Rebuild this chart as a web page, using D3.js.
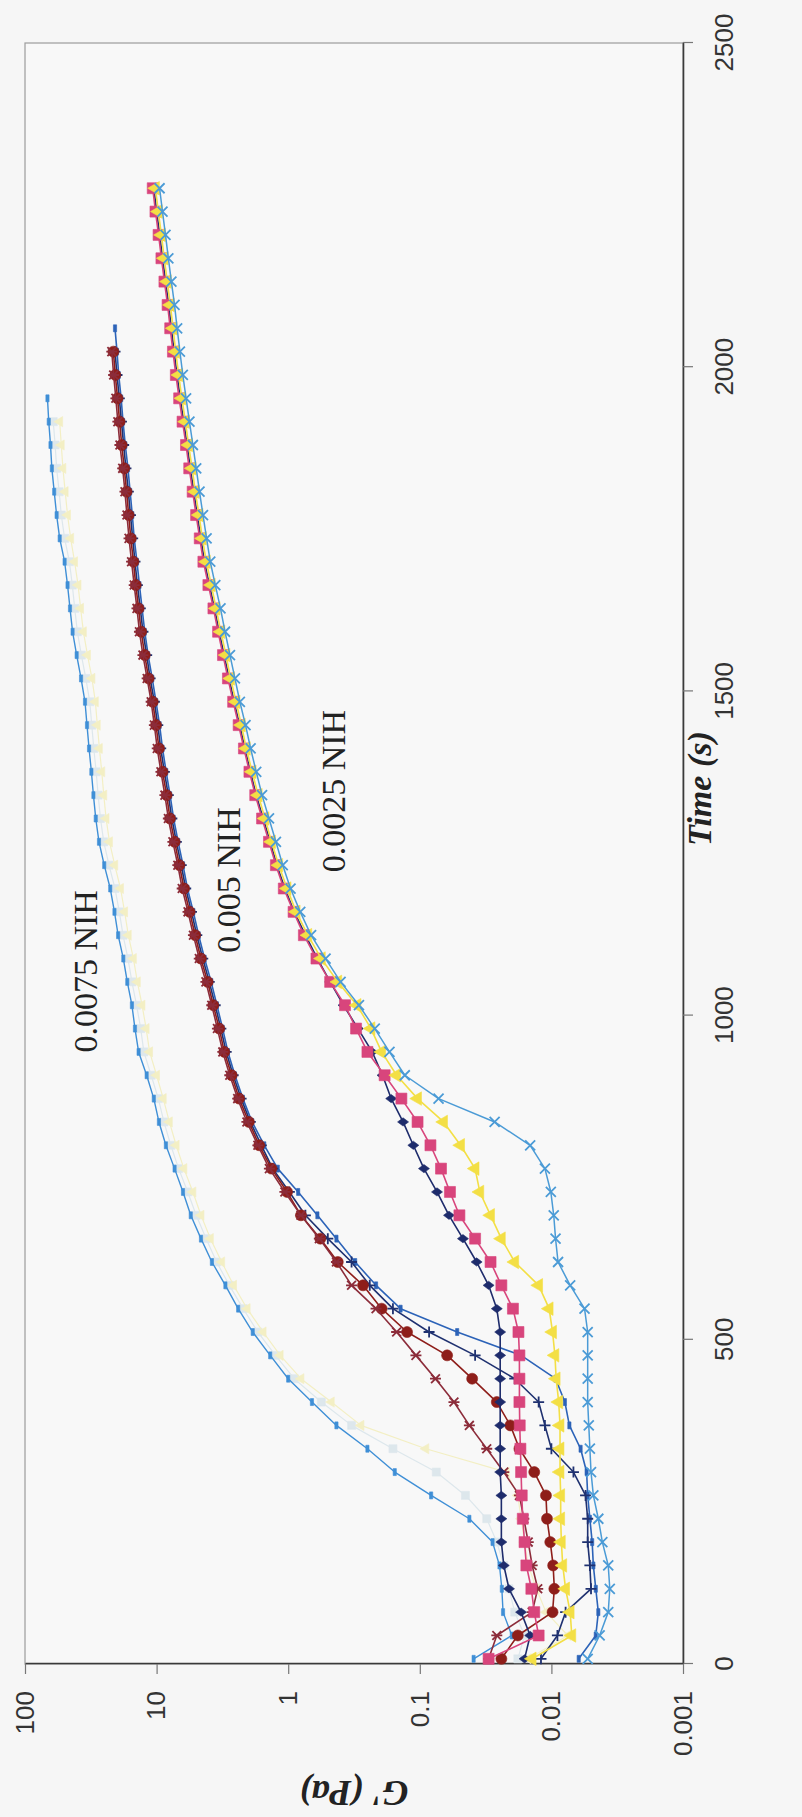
<!DOCTYPE html>
<html>
<head>
<meta charset="utf-8">
<script src="https://cdn.jsdelivr.net/npm/d3@7"></script>
<style>
  html, body { margin: 0; padding: 0; background: #f6f6f6; }
  svg { display: block; }
</style>
</head>
<body>
<svg id="chart" width="802" height="1817"></svg>
<script>
// Sampling times (s)
const times = [8, 44, 80, 116, 152, 188, 224, 260, 296, 332, 368, 404, 440, 476, 512, 548,
  584, 620, 656, 692, 728, 764, 800, 836, 872, 908, 944, 980, 1016, 1052, 1088, 1124,
  1160, 1196, 1232, 1268, 1304, 1340, 1376, 1412, 1448, 1484, 1520, 1556, 1592, 1628,
  1664, 1700, 1736, 1772, 1808, 1844, 1880, 1916, 1952, 1988, 2024, 2060, 2096, 2132,
  2168, 2204, 2240, 2276];

// G' (Pa) — 0.0025 NIH
const navyDiamond0025 = [0.016, 0.0145, 0.017, 0.021, 0.023, 0.024, 0.024, 0.024, 0.0245, 0.0245,
  0.0245, 0.0245, 0.0245, 0.0245, 0.0245, 0.026, 0.030, 0.037, 0.047, 0.060, 0.074, 0.093, 0.112,
  0.134, 0.165, 0.192, 0.23, 0.295, 0.38, 0.48, 0.60, 0.74, 0.90, 1.06, 1.22, 1.37, 1.55, 1.75,
  1.94, 2.13, 2.34, 2.58, 2.81, 3.07, 3.35, 3.63, 3.97, 4.33, 4.61, 4.91, 5.22, 5.54, 5.87, 6.23,
  6.61, 7.00, 7.36, 7.73, 8.10, 8.55, 9.01, 9.48, 9.99, 10.5];
const pinkSquare0025 = [0.030, 0.0125, 0.0135, 0.0142, 0.0155, 0.016, 0.0165, 0.0168, 0.017, 0.0172,
  0.0174, 0.0175, 0.0175, 0.0175, 0.0178, 0.0196, 0.024, 0.029, 0.038, 0.050, 0.059, 0.069, 0.083,
  0.104, 0.138, 0.185, 0.25, 0.305, 0.37, 0.48, 0.61, 0.76, 0.91, 1.08, 1.24, 1.40, 1.58, 1.78,
  1.97, 2.17, 2.38, 2.62, 2.87, 3.13, 3.41, 3.70, 4.04, 4.41, 4.70, 5.01, 5.32, 5.65, 5.98, 6.35,
  6.74, 7.14, 7.51, 7.88, 8.25, 8.72, 9.19, 9.66, 10.2, 10.7];
const yellowTriangle0025 = [0.014, 0.0070, 0.0072, 0.0078, 0.0082, 0.0084, 0.0085, 0.0085, 0.0086,
  0.0086, 0.0086, 0.0088, 0.0092, 0.0094, 0.0098, 0.0104, 0.0125, 0.019, 0.024, 0.029, 0.035, 0.038,
  0.049, 0.066, 0.104, 0.15, 0.195, 0.235, 0.30, 0.42, 0.56, 0.71, 0.87, 1.02, 1.18, 1.34, 1.50,
  1.69, 1.88, 2.08, 2.27, 2.49, 2.74, 2.97, 3.25, 3.53, 3.84, 4.19, 4.49, 4.76, 5.08, 5.37, 5.71,
  6.04, 6.43, 6.79, 7.16, 7.49, 7.87, 8.29, 8.76, 9.19, 9.71, 10.2];
const blueCross0025 = [0.0053, 0.0043, 0.0037, 0.0036, 0.0037, 0.0041, 0.0044, 0.0048, 0.0050, 0.0051,
  0.0052, 0.0053, 0.0053, 0.0053, 0.0053, 0.0056, 0.0072, 0.0089, 0.0093, 0.0096, 0.0101, 0.0112,
  0.0145, 0.027, 0.072, 0.13, 0.17, 0.22, 0.29, 0.40, 0.52, 0.67, 0.81, 0.96, 1.10, 1.24, 1.40,
  1.58, 1.75, 1.93, 2.11, 2.33, 2.54, 2.77, 3.02, 3.27, 3.58, 3.91, 4.17, 4.44, 4.72, 5.00, 5.30,
  5.63, 5.97, 6.32, 6.65, 6.98, 7.31, 7.72, 8.14, 8.56, 9.02, 9.49];

// G' (Pa) — 0.005 NIH
const blueDash005 = [0.0062, 0.0046, 0.0044, 0.0046, 0.0048, 0.0049, 0.0051, 0.0053, 0.0054, 0.0060,
  0.0073, 0.0079, 0.0093, 0.017, 0.052, 0.14, 0.215, 0.31, 0.43, 0.60, 0.84, 1.20, 1.52, 1.88,
  2.21, 2.54, 2.87, 3.15, 3.48, 3.85, 4.32, 4.79, 5.26, 5.83, 6.30, 6.86, 7.43, 7.90, 8.46, 9.02,
  9.49, 10.1, 10.8, 11.6, 12.3, 12.9, 13.5, 14.1, 14.8, 15.3, 15.9, 16.5, 17.3, 18.0, 18.6, 19.4,
  20.0, 20.7];
const navyPlus005 = [0.012, 0.009, 0.0078, 0.0050, 0.0051, 0.0053, 0.0053, 0.0055, 0.0068, 0.0100,
  0.0112, 0.0125, 0.019, 0.038, 0.085, 0.16, 0.24, 0.33, 0.50, 0.74, 0.98, 1.31, 1.60, 1.94, 2.28,
  2.62, 2.96, 3.25, 3.59, 3.98, 4.46, 4.95, 5.43, 6.01, 6.50, 7.08, 7.66, 8.15, 8.73, 9.31, 9.80,
  10.4, 11.2, 11.9, 12.7, 13.3, 14.0, 14.6, 15.2, 15.8, 16.4, 17.1, 17.8, 18.5, 19.2, 20.0, 20.7];
const redCircle005 = [0.024, 0.018, 0.0098, 0.0095, 0.0097, 0.0102, 0.0108, 0.011, 0.0135, 0.0175,
  0.0205, 0.026, 0.040, 0.062, 0.125, 0.195, 0.27, 0.42, 0.57, 0.80, 1.02, 1.34, 1.66, 1.99, 2.36,
  2.69, 3.06, 3.34, 3.71, 4.09, 4.61, 5.09, 5.61, 6.19, 6.71, 7.29, 7.91, 8.39, 9.01, 9.59, 10.1,
  10.7, 11.5, 12.3, 13.1, 13.7, 14.4, 15.0, 15.7, 16.3, 16.9, 17.6, 18.4, 19.1, 19.8, 20.6, 21.3];
const redStar005 = [0.030, 0.026, 0.014, 0.0127, 0.014, 0.015, 0.0162, 0.0175, 0.023, 0.031, 0.042,
  0.055, 0.076, 0.107, 0.15, 0.215, 0.33, 0.43, 0.58, 0.80, 1.06, 1.39, 1.70, 2.06, 2.42, 2.78,
  3.14, 3.45, 3.81, 4.22, 4.74, 5.25, 5.77, 6.39, 6.90, 7.52, 8.14, 8.65, 9.27, 9.89, 10.4, 11.0,
  11.8, 12.7, 13.5, 14.1, 14.8, 15.5, 16.2, 16.8, 17.4, 18.1, 19.0, 19.7, 20.4, 21.2, 21.9];

// G' (Pa) — 0.0075 NIH
const grayPale0075 = [0.018, 0.016, 0.019, 0.021, 0.023, 0.026, 0.031, 0.045, 0.075, 0.16, 0.33,
  0.56, 0.9, 1.25, 1.7, 2.2, 2.8, 3.5, 4.2, 5.0, 5.8, 6.8, 7.8, 8.8, 9.7, 11.0, 12.5, 13.2, 14.2,
  15.4, 16.5, 18.0, 19.2, 20.7, 23.0, 25.2, 26.7, 27.8, 28.8, 30.0, 31.1, 32.2, 34.5, 37.3, 40.0,
  41.9, 43.7, 46.0, 50.0, 53.0, 55.0, 57.5, 59.0, 61.0];
const yellowPale0075 = [0.015, 0.0075, 0.011, 0.013, 0.015, 0.016, 0.017, 0.018, 0.022, 0.09, 0.28,
  0.47, 0.8, 1.15, 1.55, 2.05, 2.6, 3.2, 3.9, 4.6, 5.3, 6.2, 7.1, 8.0, 8.9, 10.0, 11.3, 12.0, 12.9,
  14.0, 15.0, 16.4, 17.5, 18.8, 20.8, 22.8, 24.2, 25.2, 26.1, 27.2, 28.2, 29.2, 31.0, 33.5, 36.0,
  37.8, 39.5, 42.0, 45.0, 47.5, 49.5, 51.5, 53.0, 54.5];
const blueDash0075 = [0.039, 0.020, 0.0233, 0.0238, 0.0248, 0.028, 0.042, 0.082, 0.155, 0.25, 0.43,
  0.66, 1.0, 1.37, 1.86, 2.4, 3.0, 3.8, 4.6, 5.5, 6.3, 7.3, 8.5, 9.6, 10.5, 11.9, 13.7, 14.6, 15.4,
  16.7, 17.9, 19.6, 20.9, 22.5, 25.0, 27.4, 29.0, 30.2, 31.3, 32.6, 33.8, 35.0, 37.5, 40.5, 43.5,
  45.5, 47.5, 50, 54.5, 57.5, 60, 62.5, 64, 66, 67.5];

// Axis ticks
const timeTicks = [0, 500, 1000, 1500, 2000, 2500];
const modulusTicks = [0.001, 0.01, 0.1, 1, 10, 100];
const modulusTickLabels = ["0.001", "0.01", "0.1", "1", "10", "100"];

// Group annotations: text, time (s), G' (Pa) of the text start
const groupLabels = ["0.0075 NIH", "0.005 NIH", "0.0025 NIH"];
const groupLabelTime = [943, 1097, 1221];
const groupLabelModulus = [28.4, 2.32, 0.37];

// Series drawing order and styles
const series = [
  { values: grayPale0075, color: "#dde7ec", marker: "square", size: 8, lw: 1.2 },
  { values: yellowPale0075, color: "#f3efc4", marker: "triangle", size: 9, lw: 1.2 },
  { values: blueDash0075, color: "#3f8fd6", marker: "dash", size: 7, lw: 1.4 },
  { values: blueDash005, color: "#2c63b8", marker: "dash", size: 7, lw: 1.6 },
  { values: navyPlus005, color: "#1f3170", marker: "plus", size: 11, lw: 1.6 },
  { values: redCircle005, color: "#8e1e1a", marker: "circle", size: 11, lw: 1.6 },
  { values: redStar005, color: "#8c2c3a", marker: "star", size: 11, lw: 1.6 },
  { values: navyDiamond0025, color: "#1e2c6c", marker: "diamond", size: 11, lw: 1.6 },
  { values: pinkSquare0025, color: "#d8457c", marker: "square", size: 11, lw: 1.6 },
  { values: yellowTriangle0025, color: "#f3df45", marker: "triangle", size: 12, lw: 1.6 },
  { values: blueCross0025, color: "#4b9bd6", marker: "cross", size: 10, lw: 1.5 }
];

// The chart is laid out landscape and then turned a quarter turn counter-clockwise.
const W = 1817, H = 802;
const svg = d3.select("#chart");
svg.append("rect").attr("width", 802).attr("height", 1817).attr("fill", "#f6f6f6");
const g = svg.append("g").attr("transform", `translate(0,${W}) rotate(-90)`);

const x = d3.scaleLinear().domain([0, 2500]).range([153, 1774]);
const y = d3.scaleLog().domain([0.001, 100]).range([683, 25]);

// plot area frame
g.append("rect")
  .attr("x", x(0)).attr("y", y(100))
  .attr("width", x(2500) - x(0)).attr("height", y(0.001) - y(100))
  .attr("fill", "#f8f8f8").attr("stroke", "#9c9c9c").attr("stroke-width", 1.2);

// Time axis
const xAxis = g.append("g")
  .attr("transform", `translate(0,${y(0.001)})`)
  .call(d3.axisBottom(x).tickValues(timeTicks).tickFormat(d3.format("d"))
    .tickSize(10).tickSizeOuter(0).tickPadding(22));
xAxis.select(".domain").attr("stroke", "#3a3a3a").attr("stroke-width", 1.6);
xAxis.selectAll(".tick line").attr("stroke", "#777").attr("stroke-width", 1.2);
xAxis.selectAll(".tick text")
  .attr("font-family", "'Liberation Sans', Arial, sans-serif")
  .attr("font-size", 26).attr("fill", "#333");

// G' axis
const yAxis = g.append("g")
  .attr("transform", `translate(${x(0)},0)`)
  .call(d3.axisLeft(y).tickValues(modulusTicks)
    .tickFormat((d, i) => modulusTickLabels[i])
    .tickSize(10).tickSizeOuter(0).tickPadding(17));
yAxis.select(".domain").attr("stroke", "#3a3a3a").attr("stroke-width", 1.6);
yAxis.selectAll(".tick line").attr("stroke", "#777").attr("stroke-width", 1.2);
yAxis.selectAll(".tick text")
  .attr("font-family", "'Liberation Sans', Arial, sans-serif")
  .attr("font-size", 26).attr("fill", "#333");

// Marker shapes
function markerPath(type, s) {
  const h = s / 2;
  switch (type) {
    case "square": return d3.symbol(d3.symbolSquare, s * s)();
    case "circle": return d3.symbol(d3.symbolCircle, Math.PI * h * h)();
    case "triangle": return d3.symbol(d3.symbolTriangle, s * s * 0.55)();
    case "diamond": return `M0,${-h}L${h * 0.75},0L0,${h}L${-h * 0.75},0Z`;
    case "dash": return `M${-h},-1.6H${h}V1.6H${-h}Z`;
    case "cross": return `M${-h},${-h}L${h},${h}M${-h},${h}L${h},${-h}`;
    case "plus": return `M${-h},0H${h}M0,${-h}V${h}`;
    case "star": return `M${-h * 0.8},${-h * 0.8}L${h * 0.8},${h * 0.8}M${-h * 0.8},${h * 0.8}L${h * 0.8},${-h * 0.8}M0,${-h}V${h}`;
  }
}
const strokeOnly = new Set(["cross", "plus", "star"]);

const line = d3.line().x(d => x(d[0])).y(d => y(d[1]));

series.forEach(s => {
  const pts = s.values.map((v, i) => [times[i], v]);
  const sg = g.append("g");
  sg.append("path").datum(pts)
    .attr("d", line).attr("fill", "none")
    .attr("stroke", s.color).attr("stroke-width", s.lw)
    .attr("stroke-linejoin", "round");
  const path = markerPath(s.marker, s.size);
  sg.selectAll("path.m").data(pts).join("path")
    .attr("class", "m")
    .attr("transform", d => `translate(${x(d[0])},${y(d[1])})`)
    .attr("d", path)
    .attr("fill", strokeOnly.has(s.marker) ? "none" : s.color)
    .attr("stroke", s.color)
    .attr("stroke-width", strokeOnly.has(s.marker) ? 1.8 : 0.6);
});

// Group annotations
groupLabels.forEach((t, i) => {
  g.append("text")
    .attr("x", x(groupLabelTime[i])).attr("y", y(groupLabelModulus[i]))
    .attr("font-family", "'Liberation Serif', 'Times New Roman', serif")
    .attr("font-size", 34).attr("fill", "#222")
    .text(t);
});

// Axis titles
g.append("text")
  .attr("x", x(1350)).attr("y", 711)
  .attr("text-anchor", "middle")
  .attr("font-family", "'Liberation Serif', 'Times New Roman', serif")
  .attr("font-size", 34).attr("font-weight", "bold").attr("font-style", "italic")
  .attr("fill", "#222")
  .text("Time (s)");

g.append("text")
  .attr("transform", `translate(${W - 1793 + 12},${(y(100) + y(0.001)) / 2}) rotate(-90)`)
  .attr("text-anchor", "middle")
  .attr("font-family", "'Liberation Serif', 'Times New Roman', serif")
  .attr("font-size", 36).attr("font-weight", "bold").attr("font-style", "italic")
  .attr("fill", "#222")
  .text("G' (Pa)");
</script>
</body>
</html>
